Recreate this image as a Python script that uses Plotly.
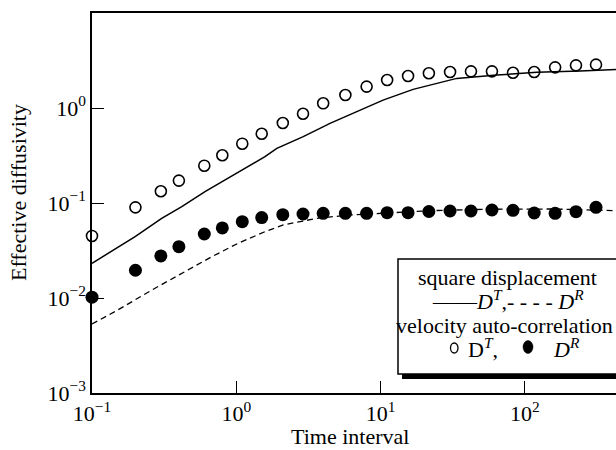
import plotly.graph_objects as go

# ---- data ----
t_vac = [0.1, 0.2, 0.3, 0.4, 0.6, 0.8, 1.1, 1.5, 2.1, 2.9, 4.0, 5.7, 8.0, 11.1,
         15.5, 21.6, 30.3, 42.3, 59.1, 82.7, 116, 162, 226, 311]
dT_vac = [0.045, 0.090, 0.133, 0.172, 0.247, 0.318, 0.421, 0.536, 0.695, 0.871,
          1.12, 1.37, 1.68, 1.97, 2.17, 2.32, 2.39, 2.43, 2.43, 2.35, 2.39,
          2.68, 2.81, 2.86]
dR_vac = [0.0102, 0.0196, 0.0277, 0.0347, 0.0472, 0.0546, 0.0636, 0.0703,
          0.0753, 0.0766, 0.0779, 0.0779, 0.0779, 0.0791, 0.0791, 0.0814,
          0.0824, 0.0824, 0.0844, 0.0838, 0.0785, 0.0779, 0.0810, 0.0900]

t_msdT = [0.1, 0.199, 0.304, 0.419, 0.607, 0.835, 1.15, 1.58, 1.91, 2.91, 4.46,
          7.19, 10.4, 16.8, 22.0, 33.7, 63.8, 121, 241, 428]
dT_msd = [0.0232, 0.0442, 0.069, 0.0914, 0.1315, 0.1747, 0.232, 0.307, 0.376,
          0.499, 0.690, 0.953, 1.21, 1.57, 1.75, 2.05, 2.22, 2.38, 2.45, 2.55]

t_msdR = [0.1, 0.151, 0.259, 0.419, 0.676, 1.03, 1.58, 2.12, 3.61, 6.14, 10.4,
          22.0, 54.3, 157, 428]
dR_msd = [0.00532, 0.00748, 0.0121, 0.0182, 0.0272, 0.0377, 0.0499, 0.0587,
          0.069, 0.0748, 0.078, 0.083, 0.0859, 0.0865, 0.083]

x_tickvals = [0.1, 1, 10, 100]
x_ticktext = ["10<sup>\u22121</sup>", "10<sup>0</sup>", "10<sup>1</sup>", "10<sup>2</sup>"]
y_tickvals = [0.001, 0.01, 0.1, 1, 10]
y_ticktext = ["10<sup>\u22123</sup>", "10<sup>\u22122</sup>", "10<sup>\u22121</sup>",
              "10<sup>0</sup>", "10<sup>1</sup>"]

FONT = "Liberation Serif"
W, H = 616, 450
L, T, B = 92, 13, 393
PW = W - L
PH = B - T


def px(x):
    return (x - L) / PW


def py(y):
    return (B - y) / PH


fig = go.Figure()
fig.add_trace(go.Scatter(x=t_msdT, y=dT_msd, mode="lines",
                         line=dict(color="black", width=1.5), showlegend=False))
fig.add_trace(go.Scatter(x=t_msdR, y=dR_msd, mode="lines",
                         line=dict(color="black", width=1.3, dash="6px,4px"),
                         showlegend=False))
fig.add_trace(go.Scatter(x=t_vac, y=dT_vac, mode="markers", cliponaxis=False,
                         marker=dict(symbol="circle-open", size=11, color="black",
                                     line=dict(width=1.6, color="black")),
                         showlegend=False))
fig.add_trace(go.Scatter(x=t_vac, y=dR_vac, mode="markers", cliponaxis=False,
                         marker=dict(symbol="circle", size=13, color="black"),
                         showlegend=False))

axis_common = dict(showgrid=False, zeroline=False, showline=True, linecolor="black",
                   linewidth=1.5, ticks="inside", ticklen=12, tickwidth=1.3,
                   tickcolor="black", tickfont=dict(family=FONT, size=22, color="black"))

fig.update_xaxes(type="log", range=[-1, -1 + PW / 144.3], tickvals=x_tickvals,
                 ticktext=x_ticktext, mirror=True, **axis_common)
fig.update_yaxes(type="log", range=[-3, 1], tickvals=y_tickvals,
                 ticktext=y_ticktext, mirror=False, **axis_common)

shapes = [
    dict(type="rect", xref="paper", yref="paper", x0=px(402), x1=px(660),
         y0=py(379), y1=py(263), fillcolor="black", line=dict(width=0)),
    dict(type="rect", xref="paper", yref="paper", x0=px(398), x1=px(656),
         y0=py(374), y1=py(259), fillcolor="white",
         line=dict(color="black", width=1.5)),
    dict(type="circle", xref="paper", yref="paper", x0=px(450.5), x1=px(458),
         y0=py(353), y1=py(343), fillcolor="white",
         line=dict(color="black", width=1.3)),
    dict(type="circle", xref="paper", yref="paper", x0=px(523), x1=px(533),
         y0=py(353.5), y1=py(340.5), fillcolor="black",
         line=dict(color="black", width=0.5)),
]

ann_font = dict(family=FONT, size=22, color="black")
annotations = [
    dict(text="Time interval", x=px(350), y=py(437), xref="paper", yref="paper",
         showarrow=False, font=ann_font, xanchor="center", yanchor="middle"),
    dict(text="Effective diffusivity", x=px(18), y=py(193), xref="paper", yref="paper",
         showarrow=False, font=ann_font, textangle=-90, xanchor="center",
         yanchor="middle"),
    dict(text="square displacement", x=px(507), y=py(277), xref="paper", yref="paper",
         showarrow=False, font=ann_font, xanchor="center", yanchor="middle"),
    dict(text="\u2014\u2014<i>D</i><sup><i>T</i></sup>,- - - - <i>D</i><sup><i>R</i></sup>",
         x=px(508), y=py(300), xref="paper", yref="paper",
         showarrow=False, font=ann_font, xanchor="center", yanchor="middle"),
    dict(text="velocity auto-correlation", x=px(504), y=py(325), xref="paper",
         yref="paper", showarrow=False, font=ann_font, xanchor="center",
         yanchor="middle"),
    dict(text="D<sup><i>T</i></sup>,", x=px(466), y=py(348), xref="paper",
         yref="paper", showarrow=False, font=ann_font, xanchor="left",
         yanchor="middle"),
    dict(text="<i>D</i><sup><i>R</i></sup>", x=px(551), y=py(348), xref="paper",
         yref="paper", showarrow=False, font=ann_font, xanchor="left",
         yanchor="middle"),
]

fig.update_layout(width=W, height=H, margin=dict(l=L, r=0, t=T, b=H - B, pad=0),
                  paper_bgcolor="white", plot_bgcolor="white",
                  font=dict(family=FONT, size=22, color="black"),
                  shapes=shapes, annotations=annotations, showlegend=False)

fig.write_html("out.html")
